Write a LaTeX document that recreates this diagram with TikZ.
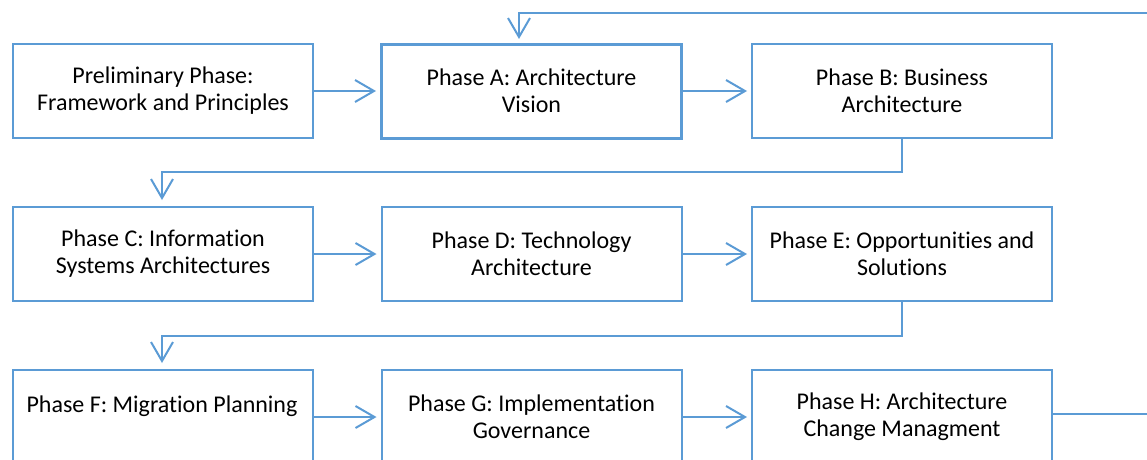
\documentclass[tikz,border=0pt]{standalone}
\usepackage{fontspec}
\setmainfont{Carlito}[Ligatures=NoCommon]
\usetikzlibrary{arrows.meta}
\definecolor{lineblue}{HTML}{5B9BD5}
\tikzset{
  x=1pt, y=-1pt,
  phasefont/.style={font=\fontsize{24}{27}\selectfont},
  phasebox/.style={draw=lineblue, line width=2pt, rectangle, minimum width=300pt, minimum height=94pt, inner sep=0pt, align=center, phasefont},
  conn/.style={draw=lineblue, line width=2pt, -{Straight Barb[length=19pt,width=22pt,line width=2pt]}}
}
\begin{document}
\begin{tikzpicture}
\useasboundingbox (0,0) rectangle (1147,459);
\node[phasebox] (pre) at (163,91) {Preliminary Phase:\\Framework and Principles};
\node[phasebox, line width=3pt] (a) at (531.5,91) {Phase A: Architecture\\Vision};
\node[phasebox] (b) at (902,91) {Phase B: Business\\Architecture};
\node[phasebox] (c) at (163,254) {Phase C: Information\\Systems Architectures};
\node[phasebox] (d) at (531.5,254) {Phase D: Technology\\Architecture};
\node[phasebox] (e) at (902,254) {Phase E: Opportunities and\\Solutions};
\node[phasebox] (f) at (163,417) {};
\node[phasefont, inner sep=0pt] (ft) at (162,406) {Phase F: Migration Planning};
\node[phasebox] (g) at (531.5,417) {Phase G: Implementation\\Governance};
\node[phasebox] (h) at (902,417) {Phase H: Architecture\\Change Managment};
% horizontal arrows
\draw[conn, shorten >=4pt] (pre.east) -- (a.west);
\draw[conn, shorten >=4pt] (a.east) -- (b.west);
\draw[conn, shorten >=4pt] (c.east) -- (d.west);
\draw[conn, shorten >=4pt] (d.east) -- (e.west);
\draw[conn, shorten >=4pt] (f.east) -- (g.west);
\draw[conn, shorten >=4pt] (g.east) -- (h.west);
% row connectors
\draw[conn, shorten >=7pt] (b.south) -- (902,172) -- (162,172) -- (162,207);
\draw[conn, shorten >=7pt] (e.south) -- (902,336) -- (162,336) -- (162,370);
% loop back
\coordinate (off) at (1170,414);
\coordinate (offtop) at (1170,13);
\draw[conn, shorten >=5pt] (h.east |- 0,414) -- (off) -- (offtop) -- (519,13) -- (519,44);
\end{tikzpicture}
\end{document}
